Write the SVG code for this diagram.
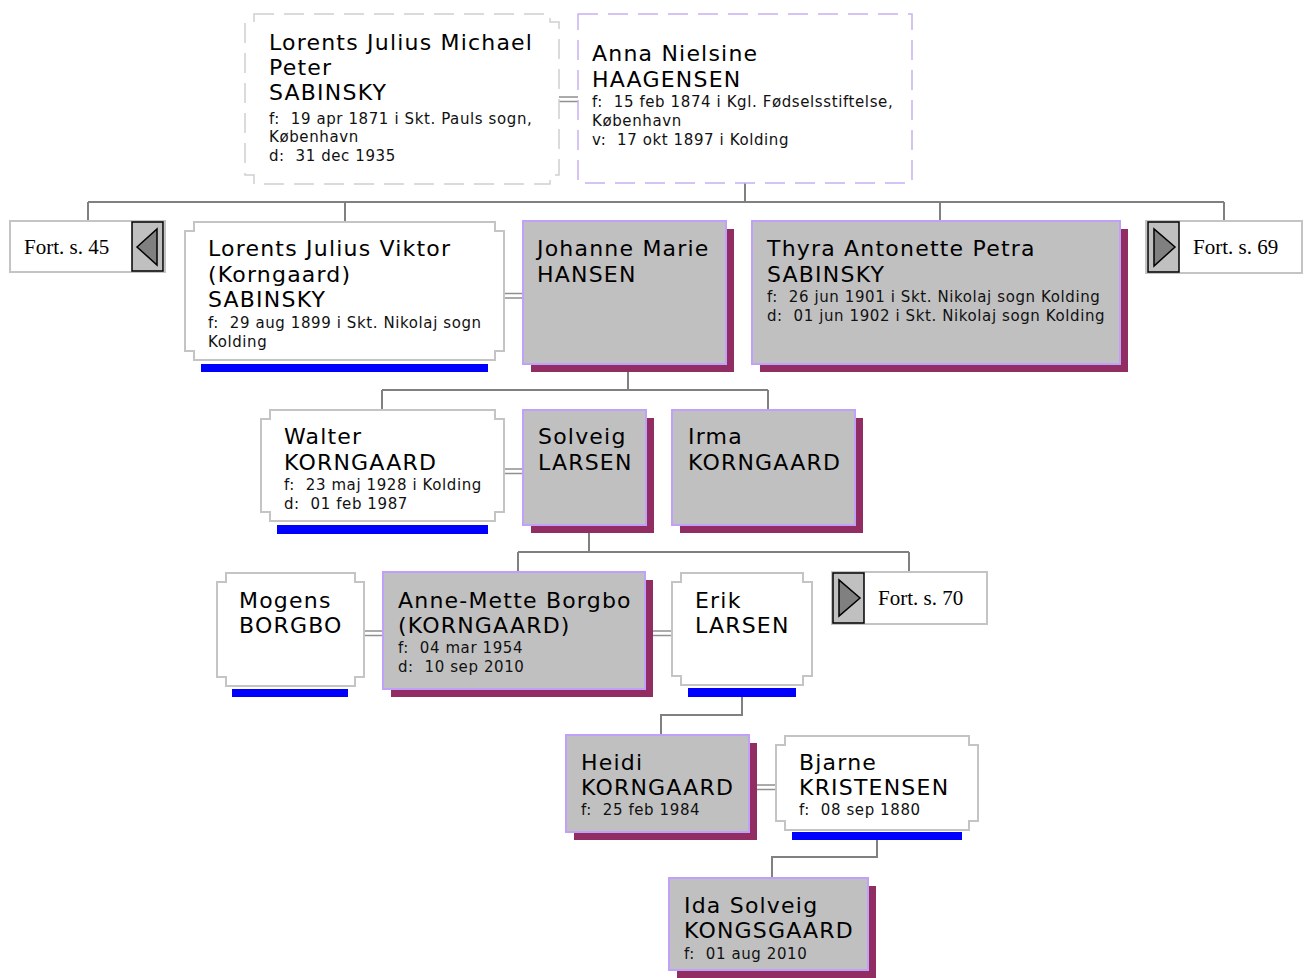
<svg xmlns="http://www.w3.org/2000/svg" width="1306" height="978" viewBox="0 0 1306 978">
<defs>
<style>
.bg{fill:#ffffff}
.nm{font-family:"DejaVu Sans","Verdana",sans-serif;font-size:22px;letter-spacing:1.2px;fill:#000}
.sm{font-family:"DejaVu Sans","Verdana",sans-serif;font-size:15px;letter-spacing:0.6px;fill:#111;white-space:pre}
.fort{font-family:"Liberation Serif","Times New Roman",serif;font-size:21px;fill:#000}
.gray{fill:#c0c0c0;stroke:#c0a0f8;stroke-width:2}
.shadow{fill:#912d62}
.white{fill:#ffffff;stroke:#c4c4c4;stroke-width:2}
.blue{fill:#0000ff}
.dashA{fill:#ffffff;stroke:#d0d0d0;stroke-width:1.5;stroke-dasharray:20 10}
.dashB{fill:#ffffff;stroke:#c8b0f4;stroke-width:1.5;stroke-dasharray:20 10}
.fbox{fill:#ffffff;stroke:#c4c4c4;stroke-width:2}
.abox{fill:#c0c0c0;stroke:#000;stroke-width:1.5}
.tri{fill:#808080;stroke:#000;stroke-width:1.5}
.ln{fill:none;stroke:#808080;stroke-width:2}
.mar{fill:none;stroke:#909090;stroke-width:1.5}
</style>
</defs>
<rect class="bg" x="0" y="0" width="1306" height="978"/>

<g id="connectors">
<path class="ln" d="M745,183 V202 M88,202 H1224 M88,202 V221 M345,202 V222 M940,202 V221 M1224,202 V221"/>
<path class="ln" d="M628,372 V390 M382,390 H768 M382,390 V410 M768,390 V410"/>
<path class="ln" d="M589,533 V552 M518,552 H909 M518,552 V572 M909,552 V572"/>
<path class="ln" d="M742,697 V715 H661 V735"/>
<path class="ln" d="M877,840 V857 H772 V878"/>
<path class="mar" d="M559,97 H578 M559,101.5 H578"/>
<path class="mar" d="M504,293.5 H523 M504,298 H523"/>
<path class="mar" d="M504,469 H523 M504,473.5 H523"/>
<path class="mar" d="M364,631 H383 M364,635.5 H383"/>
<path class="mar" d="M652,631 H672 M652,635.5 H672"/>
<path class="mar" d="M757,785 H776 M757,789.5 H776"/>
</g>

<g id="n-lorents-michael">
<path class="dashA" d="M254,14 H550 V22 H559 V175 H550 V184 H254 V175 H245 V22 H254 Z"/>
<text class="nm" x="269" y="50">Lorents Julius Michael</text>
<text class="nm" x="269" y="75">Peter</text>
<text class="nm" x="269" y="100">SABINSKY</text>
<text class="sm" x="269" y="124">f:  19 apr 1871 i Skt. Pauls sogn,</text>
<text class="sm" x="269" y="142">København</text>
<text class="sm" x="269" y="161">d:  31 dec 1935</text>
</g>

<g id="n-anna">
<rect class="dashB" x="578" y="14" width="334" height="169"/>
<text class="nm" x="592" y="61">Anna Nielsine</text>
<text class="nm" x="592" y="87">HAAGENSEN</text>
<text class="sm" x="592" y="107">f:  15 feb 1874 i Kgl. Fødselsstiftelse,</text>
<text class="sm" x="592" y="126">København</text>
<text class="sm" x="592" y="145">v:  17 okt 1897 i Kolding</text>
</g>

<g id="n-fort45">
<rect class="fbox" x="10" y="221" width="155" height="51"/>
<rect class="abox" x="132" y="222" width="31" height="49"/>
<polygon class="tri" points="137,247 157,229 157,265"/>
<text class="fort" x="24" y="254">Fort. s. 45</text>
</g>

<g id="n-fort69">
<rect class="fbox" x="1146" y="221" width="156" height="52"/>
<rect class="abox" x="1148" y="222" width="31" height="50"/>
<polygon class="tri" points="1154,229 1154,266 1175,247"/>
<text class="fort" x="1193" y="254">Fort. s. 69</text>
</g>

<g id="n-lorents-viktor">
<rect class="blue" x="201" y="364" width="287" height="8"/>
<path class="white" d="M194,222 H495 V231 H504 V351 H495 V360 H194 V351 H185 V231 H194 Z"/>
<text class="nm" x="208" y="256">Lorents Julius Viktor</text>
<text class="nm" x="208" y="282">(Korngaard)</text>
<text class="nm" x="208" y="307">SABINSKY</text>
<text class="sm" x="208" y="328">f:  29 aug 1899 i Skt. Nikolaj sogn</text>
<text class="sm" x="208" y="347">Kolding</text>
</g>

<g id="n-johanne">
<rect class="shadow" x="531" y="229" width="203" height="143"/>
<rect class="gray" x="523" y="221" width="203" height="143"/>
<text class="nm" x="537" y="256">Johanne Marie</text>
<text class="nm" x="537" y="282">HANSEN</text>
</g>

<g id="n-thyra">
<rect class="shadow" x="760" y="229" width="368" height="143"/>
<rect class="gray" x="752" y="221" width="368" height="143"/>
<text class="nm" x="767" y="256">Thyra Antonette Petra</text>
<text class="nm" x="767" y="282">SABINSKY</text>
<text class="sm" x="767" y="302">f:  26 jun 1901 i Skt. Nikolaj sogn Kolding</text>
<text class="sm" x="767" y="321">d:  01 jun 1902 i Skt. Nikolaj sogn Kolding</text>
</g>

<g id="n-walter">
<rect class="blue" x="277" y="525" width="211" height="9"/>
<path class="white" d="M270,410 H495 V419 H504 V512 H495 V521 H270 V512 H261 V419 H270 Z"/>
<text class="nm" x="284" y="444">Walter</text>
<text class="nm" x="284" y="470">KORNGAARD</text>
<text class="sm" x="284" y="490">f:  23 maj 1928 i Kolding</text>
<text class="sm" x="284" y="509">d:  01 feb 1987</text>
</g>

<g id="n-solveig">
<rect class="shadow" x="531" y="418" width="123" height="115"/>
<rect class="gray" x="523" y="410" width="123" height="115"/>
<text class="nm" x="538" y="444">Solveig</text>
<text class="nm" x="538" y="470">LARSEN</text>
</g>

<g id="n-irma">
<rect class="shadow" x="680" y="418" width="183" height="115"/>
<rect class="gray" x="672" y="410" width="183" height="115"/>
<text class="nm" x="688" y="444">Irma</text>
<text class="nm" x="688" y="470">KORNGAARD</text>
</g>

<g id="n-mogens">
<rect class="blue" x="232" y="689" width="116" height="8"/>
<path class="white" d="M226,573 H355 V582 H364 V677 H355 V686 H226 V677 H217 V582 H226 Z"/>
<text class="nm" x="239" y="608">Mogens</text>
<text class="nm" x="239" y="633">BORGBO</text>
</g>

<g id="n-annemette">
<rect class="shadow" x="391" y="580" width="262" height="117"/>
<rect class="gray" x="383" y="572" width="262" height="117"/>
<text class="nm" x="398" y="608">Anne-Mette Borgbo</text>
<text class="nm" x="398" y="633">(KORNGAARD)</text>
<text class="sm" x="398" y="653">f:  04 mar 1954</text>
<text class="sm" x="398" y="672">d:  10 sep 2010</text>
</g>

<g id="n-erik">
<rect class="blue" x="688" y="688" width="108" height="9"/>
<path class="white" d="M681,573 H803 V582 H812 V676 H803 V685 H681 V676 H672 V582 H681 Z"/>
<text class="nm" x="695" y="608">Erik</text>
<text class="nm" x="695" y="633">LARSEN</text>
</g>

<g id="n-fort70">
<rect class="fbox" x="832" y="572" width="155" height="52"/>
<rect class="abox" x="833" y="573" width="31" height="50"/>
<polygon class="tri" points="839,580 839,616 860,598"/>
<text class="fort" x="878" y="605">Fort. s. 70</text>
</g>

<g id="n-heidi">
<rect class="shadow" x="574" y="743" width="183" height="97"/>
<rect class="gray" x="566" y="735" width="183" height="97"/>
<text class="nm" x="581" y="770">Heidi</text>
<text class="nm" x="581" y="795">KORNGAARD</text>
<text class="sm" x="581" y="815">f:  25 feb 1984</text>
</g>

<g id="n-bjarne">
<rect class="blue" x="792" y="832" width="170" height="8"/>
<path class="white" d="M785,736 H969 V745 H978 V821 H969 V830 H785 V821 H776 V745 H785 Z"/>
<text class="nm" x="799" y="770">Bjarne</text>
<text class="nm" x="799" y="795">KRISTENSEN</text>
<text class="sm" x="799" y="815">f:  08 sep 1880</text>
</g>

<g id="n-ida">
<rect class="shadow" x="677" y="886" width="199" height="92"/>
<rect class="gray" x="669" y="878" width="199" height="92"/>
<text class="nm" x="684" y="913">Ida Solveig</text>
<text class="nm" x="684" y="938">KONGSGAARD</text>
<text class="sm" x="684" y="959">f:  01 aug 2010</text>
</g>
</svg>
